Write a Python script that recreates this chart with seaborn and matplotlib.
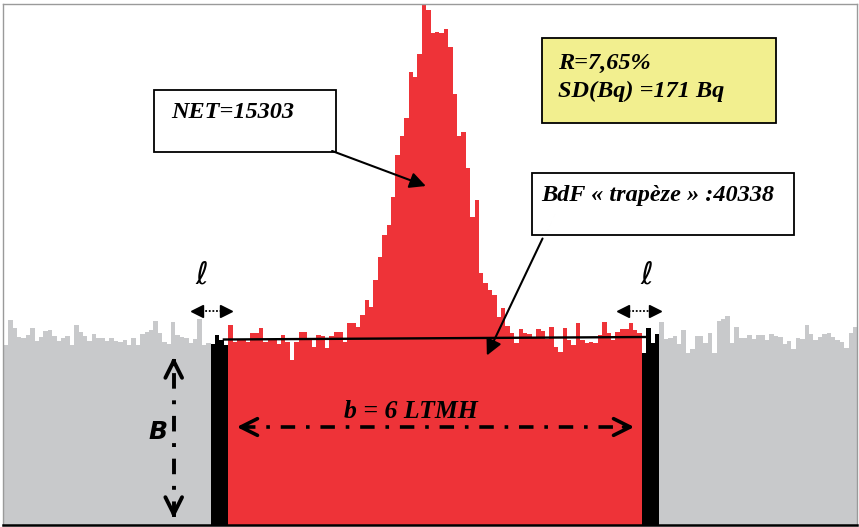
import numpy as np
import pandas as pd
import matplotlib
matplotlib.use("Agg")
import matplotlib.pyplot as plt
from matplotlib.patches import Rectangle
import seaborn as sns

# ---- data: counts per channel ----
gray_left = [180, 205, 197, 188, 187, 190, 197, 184, 188, 194, 195, 189, 184, 187, 189,
             180, 200, 193, 189, 184, 191, 187, 187, 184, 187, 184, 183, 185, 180, 187,
             180, 191, 193, 195, 204, 192, 183, 181, 203, 190, 188, 187, 182, 186, 206,
             180, 182]
black_left = [181, 190, 185, 180]
red_roi = [200, 183, 185, 185, 183, 192, 192, 197, 183, 185, 185, 181, 190, 183, 165,
           183, 193, 193, 186, 178, 190, 189, 177, 189, 193, 193, 183, 202, 202, 198,
           210, 225, 218, 245, 268, 290, 300, 328, 370, 389, 407, 453, 448, 471, 521,
           515, 492, 493, 492, 496, 478, 431, 389, 393, 357, 308, 325, 252, 242, 235,
           230, 208, 217, 199, 192, 182, 196, 192, 191, 188, 196, 194, 186, 198, 178,
           173, 197, 185, 180, 202, 185, 182, 183, 182, 190, 203, 192, 185, 193, 196,
           196, 202, 195, 192]
black_right = [172, 197, 182, 191]
gray_right = [203, 186, 187, 189, 181, 195, 172, 176, 189, 189, 182, 192, 172, 204, 206,
              209, 182, 198, 187, 187, 190, 186, 190, 190, 185, 191, 189, 188, 181, 184,
              176, 187, 186, 200, 191, 185, 188, 191, 192, 188, 185, 183, 177, 192, 198]

regions = (["bg"] * len(gray_left) + ["edge"] * len(black_left) + ["roi"] * len(red_roi)
           + ["edge"] * len(black_right) + ["bg"] * len(gray_right))
counts = gray_left + black_left + red_roi + black_right + gray_right
n = len(counts)
df = pd.DataFrame({"channel": np.arange(n) + 0.5, "counts": counts, "region": regions})

RED = "#EE3338"
GRAY = "#C8C9CB"
palette = {"bg": GRAY, "edge": "black", "roi": RED}

fig = plt.figure(figsize=(8.59, 5.27), dpi=100)
ax = fig.add_axes([3 / 859, 2 / 527, 854 / 859, 521 / 527])

sns.histplot(data=df, x="channel", weights="counts", hue="region", palette=palette,
             binwidth=1, binrange=(0, n), element="step", fill=True, alpha=1, linewidth=0,
             multiple="layer", legend=False, ax=ax)

ax.set_xlim(-0.2, 193.9)
ax.set_ylim(0, 521)
ax.set_xticks([])
ax.set_yticks([])
ax.set_xlabel("")
ax.set_ylabel("")
for s in ["left", "top", "right"]:
    ax.spines[s].set_color("#9a9a9a")
    ax.spines[s].set_linewidth(1.0)
ax.spines["bottom"].set_color("black")
ax.spines["bottom"].set_linewidth(1.8)

serif_bi = dict(family="Liberation Serif", fontweight="bold", fontstyle="italic")

# trapezoid top line
ax.plot([50.0, 146.0], [185.5, 188.0], color="black", lw=1.7, zorder=5)

# NET box
ax.add_patch(Rectangle((34.1, 373), 41.4, 62, fill=True, facecolor="white",
                       edgecolor="black", lw=1.3, zorder=6))
ax.text(38.0, 412, "NET=15303", fontsize=17.5, va="center", ha="left", zorder=7, **serif_bi)
ax.annotate("", xy=(96.5, 338), xytext=(74.0, 375),
            arrowprops=dict(arrowstyle="-|>", lw=1.5, color="black", mutation_scale=24),
            zorder=7)

# yellow results box
ax.add_patch(Rectangle((122.3, 402), 53.2, 85, facecolor="#F2EF8F",
                       edgecolor="black", lw=1.3, zorder=6))
ax.text(125.9, 461.5, "R=7,65%", fontsize=17.5, va="center", ha="left", zorder=7, **serif_bi)
ax.text(125.9, 434.0, "SD(Bq) =171 Bq", fontsize=17.5, va="center", ha="left", zorder=7,
        **serif_bi)

# BdF box
ax.add_patch(Rectangle((120.0, 290), 59.5, 62, facecolor="white",
                       edgecolor="black", lw=1.3, zorder=6))
ax.text(122.2, 329, "BdF « trapèze » :40338", fontsize=17.5, va="center", ha="left",
        zorder=7, **serif_bi)
ax.annotate("", xy=(109.5, 167), xytext=(122.7, 289),
            arrowprops=dict(arrowstyle="-|>", lw=1.5, color="black", mutation_scale=24),
            zorder=7)

# l markers with small double arrows
for xc, x0, x1 in [(45.0, 43.0, 51.4), (146.0, 139.9, 148.8)]:
    ax.text(xc, 250, "ℓ", fontsize=22, ha="center", va="center",
            family=["DejaVu Sans", "DejaVu Serif"], zorder=7)
    ax.plot([x0 + 1.2, x1 - 1.2], [214, 214], color="black", lw=1.3, ls=(0, (1, 1)), zorder=7)
    ax.plot([x0 + 0.9], [214], marker="<", color="black", ms=9, zorder=7)
    ax.plot([x1 - 0.9], [214], marker=">", color="black", ms=9, zorder=7)

# B vertical arrow
xb = 38.6
ax.plot([xb, xb], [8, 166], color="black", lw=2.8, ls=(0, (4, 3, 1, 3)), zorder=7)
for ytip, yfrom in [(171, 158), (4, 17)]:
    ax.annotate("", xy=(xb, ytip), xytext=(xb, yfrom),
                arrowprops=dict(arrowstyle="->", lw=2.8, color="black", mutation_scale=30),
                zorder=7)
ax.text(35.0, 93, "B", fontsize=18, ha="center", va="center", family="DejaVu Sans",
        fontweight="bold", fontstyle="oblique", zorder=7)

# b horizontal arrow
yb = 98
ax.plot([54.0, 142.5], [yb, yb], color="black", lw=2.6, ls=(0, (4, 3, 1, 3)), zorder=7)
for xtip, xfrom in [(52.3, 56.0), (143.9, 140.2)]:
    ax.annotate("", xy=(xtip, yb), xytext=(xfrom, yb),
                arrowprops=dict(arrowstyle="->", lw=2.6, color="black", mutation_scale=30),
                zorder=7)
ax.text(92.5, 114, "b = 6 LTMH", fontsize=18.5, ha="center", va="center", zorder=7, **serif_bi)

fig.savefig("out.png", dpi=100)
